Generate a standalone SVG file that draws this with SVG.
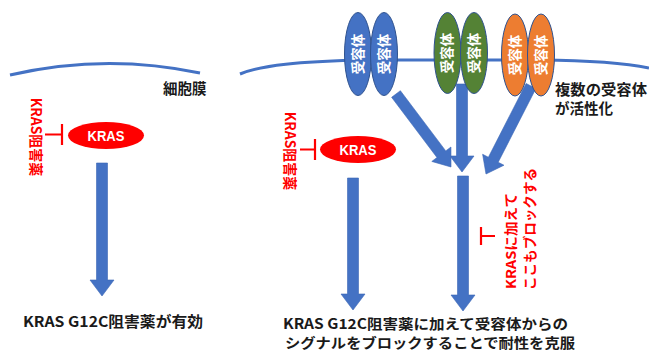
<svg xmlns="http://www.w3.org/2000/svg" width="649" height="350" viewBox="0 0 649 350">
<style>
.jp{font-family:"Noto Sans CJK JP","Liberation Sans",sans-serif;font-weight:700}
.lbl{font-size:14.5px;fill:#1a1a1a}
.red{fill:#FF0000;font-size:14px}
.mem{fill:none;stroke:#4472C4;stroke-width:3}
.arr{fill:#4472C4;stroke:#3B66B5;stroke-width:0.6}
.inh{fill:none;stroke:#FF0000;stroke-width:2.2}
.rec{stroke:#2F528F;stroke-width:1}
.rt{fill:#fff;font-size:13.5px}
.kras{fill:#FF0000}
.kt{fill:#fff;font-size:15px;font-family:"Liberation Sans",sans-serif;font-weight:700}
</style>
<rect width="649" height="350" fill="#fff"/>
<g id="membranes">
<path class="mem" d="M10,75 Q105,53 200,73"/>
<path class="mem" d="M240,74 C262,65 300,61.5 360,60 L540,60 C590,60.5 625,63 649,68"/>
</g>
<g id="connectors">
<polygon class="arr" points="96.5,163 107.5,163 107.5,280 114,280 102,296 90,280 96.5,280"/>
<polygon class="arr" points="347.5,178 358.5,178 358.5,294 365,294 353,310 341,294 347.5,294"/>
<polygon class="arr" points="457.5,176 468.5,176 468.5,295 475,295 463,311 451,295 457.5,295"/>
<polygon class="arr" points="456.5,84 467.5,84 467.5,156 474,156 462,172 450,156 456.5,156"/>
<polygon class="arr" points="391.61,97.31 436.98,157.53 431.79,161.44 451,167 450.95,147 445.76,150.91 400.39,90.69"/>
<polygon class="arr" points="526.1,83.5 488.38,157.25 482.6,154.29 486,174 503.96,165.21 498.18,162.25 535.9,88.5"/>
<path class="inh" d="M45,134.5 H62 M62,124 V145"/>
<path class="inh" d="M300,149.5 H315 M315,139 V160"/>
<path class="inh" d="M495,236 H481 M481,227 V245"/>
</g>
<g id="receptor-blue-1"><ellipse class="rec" cx="358" cy="54" rx="13.5" ry="41.5" fill="#4472C4"/><text class="jp rt" transform="translate(358,54) rotate(-90)" text-anchor="middle" dy="0.36em">受容体</text></g>
<g id="receptor-blue-2"><ellipse class="rec" cx="384" cy="54" rx="13.5" ry="41.5" fill="#4472C4"/><text class="jp rt" transform="translate(384,54) rotate(-90)" text-anchor="middle" dy="0.36em">受容体</text></g>
<g id="receptor-green-1"><ellipse class="rec" cx="447.5" cy="53" rx="13.5" ry="40.5" fill="#548235"/><text class="jp rt" transform="translate(447.5,53) rotate(-90)" text-anchor="middle" dy="0.36em">受容体</text></g>
<g id="receptor-green-2"><ellipse class="rec" cx="474" cy="53" rx="13.5" ry="40.5" fill="#548235"/><text class="jp rt" transform="translate(474,53) rotate(-90)" text-anchor="middle" dy="0.36em">受容体</text></g>
<g id="receptor-orange-1"><ellipse class="rec" cx="515" cy="55" rx="13.5" ry="41" fill="#ED7D31"/><text class="jp rt" transform="translate(515,55) rotate(-90)" text-anchor="middle" dy="0.36em">受容体</text></g>
<g id="receptor-orange-2"><ellipse class="rec" cx="541" cy="55" rx="13.5" ry="41" fill="#ED7D31"/><text class="jp rt" transform="translate(541,55) rotate(-90)" text-anchor="middle" dy="0.36em">受容体</text></g>
<g id="kras-left"><ellipse class="kras" cx="106" cy="135.5" rx="38" ry="13.5"/><text class="kt" x="106" y="141" text-anchor="middle" textLength="37" lengthAdjust="spacingAndGlyphs">KRAS</text></g>
<g id="kras-right"><ellipse class="kras" cx="358" cy="149.5" rx="38" ry="13.5"/><text class="kt" x="358" y="155" text-anchor="middle" textLength="37" lengthAdjust="spacingAndGlyphs">KRAS</text></g>
<g id="labels">
<text class="jp lbl" x="163" y="94">細胞膜</text>
<text class="jp lbl" x="555" y="95" textLength="92" lengthAdjust="spacingAndGlyphs">複数の受容体</text>
<text class="jp lbl" x="555" y="114">が活性化</text>
<text class="jp red" transform="translate(36,137) rotate(90)" text-anchor="middle" dy="0.36em">KRAS阻害薬</text>
<text class="jp red" transform="translate(290,151) rotate(90)" text-anchor="middle" dy="0.36em">KRAS阻害薬</text>
<text class="jp red" style="font-size:13.5px" transform="translate(516,289) rotate(-90)" textLength="96" lengthAdjust="spacingAndGlyphs">KRASに加えて</text>
<text class="jp red" style="font-size:13.5px" transform="translate(535,290) rotate(-90)" textLength="122" lengthAdjust="spacingAndGlyphs">ここもブロックする</text>
<text class="jp lbl" x="23" y="327" textLength="180" lengthAdjust="spacingAndGlyphs">KRAS G12C阻害薬が有効</text>
<text class="jp lbl" style="font-size:14px" x="283" y="329" textLength="285" lengthAdjust="spacingAndGlyphs">KRAS G12C阻害薬に加えて受容体からの</text>
<text class="jp lbl" style="font-size:14px" x="285" y="347.5" textLength="290" lengthAdjust="spacingAndGlyphs">シグナルをブロックすることで耐性を克服</text>
</g>
</svg>
